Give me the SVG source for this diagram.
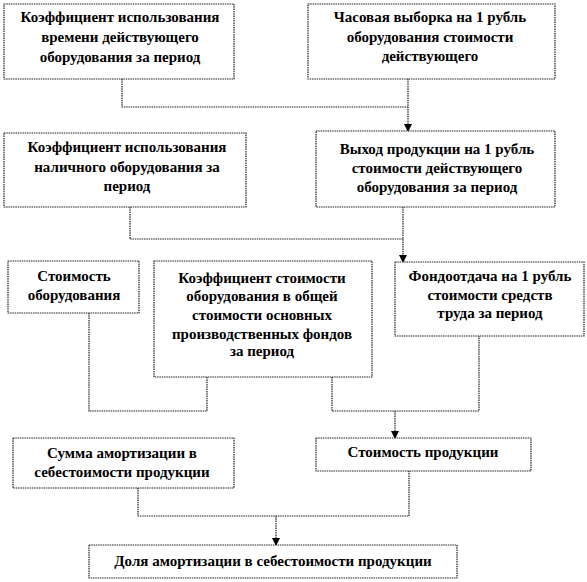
<svg xmlns="http://www.w3.org/2000/svg" width="587" height="582" viewBox="0 0 587 582">
<defs>
<marker id="ah" markerWidth="8" markerHeight="8" refX="7" refY="4" orient="auto" markerUnits="userSpaceOnUse">
<path d="M0,0 L8,4 L0,8 Z" fill="#000"/>
</marker>
</defs>
<rect width="587" height="582" fill="#fff"/>
<g id="connectors" fill="none" stroke="#222" stroke-width="1.2" stroke-dasharray="1.5 0.8">
<polyline points="122,79 122,107 408,107"/>
<line x1="408" y1="79" x2="408" y2="131" marker-end="url(#ah)"/>
<polyline points="130,207 130,239 403,239"/>
<line x1="403" y1="207" x2="403" y2="262" marker-end="url(#ah)"/>
<polyline points="89,313 89,411 207,411 207,377"/>
<polyline points="332,377 332,411 479,411 479,336"/>
<line x1="395" y1="411" x2="395" y2="438" marker-end="url(#ah)"/>
<polyline points="138,488 138,516 409,516 409,471"/>
<line x1="276" y1="516" x2="276" y2="545" marker-end="url(#ah)"/>
</g>
<g id="boxes" fill="#fff" stroke="#222" stroke-width="1.2" stroke-dasharray="1.5 0.8">
<rect id="b1" x="4" y="4" width="230" height="75"/>
<rect id="b2" x="308" y="4" width="247" height="75"/>
<rect id="b3" x="4" y="133" width="242" height="74"/>
<rect id="b4" x="316" y="131" width="239" height="76"/>
<rect id="b5" x="8" y="261" width="131" height="52"/>
<rect id="b6" x="154" y="261" width="218" height="116"/>
<rect id="b7" x="395" y="262" width="189" height="74"/>
<rect id="b8" x="13" y="438" width="221" height="50"/>
<rect id="b9" x="316" y="438" width="215" height="33"/>
<rect id="b10" x="89" y="545" width="368" height="33"/>
</g>
<g id="labels" font-weight="bold">
<g id="n1">
<text font-family="Times New Roman" font-size="15" text-anchor="middle" x="120" y="22">Коэффициент использования</text>
<text font-family="Times New Roman" font-size="15" text-anchor="middle" x="120" y="42">времени действующего</text>
<text font-family="Times New Roman" font-size="15" text-anchor="middle" x="120" y="62">оборудования за период</text>
</g>
<g id="n2">
<text font-family="Times New Roman" font-size="15" text-anchor="middle" x="430" y="22">Часовая выборка на 1 рубль</text>
<text font-family="Times New Roman" font-size="15" text-anchor="middle" x="430" y="42">оборудования стоимости</text>
<text font-family="Times New Roman" font-size="15" text-anchor="middle" x="430" y="61">действующего</text>
</g>
<g id="n3">
<text font-family="Times New Roman" font-size="15" text-anchor="middle" x="127" y="152">Коэффициент использования</text>
<text font-family="Times New Roman" font-size="15" text-anchor="middle" x="127" y="172">наличного оборудования за</text>
<text font-family="Times New Roman" font-size="15" text-anchor="middle" x="127" y="191">период</text>
</g>
<g id="n4">
<text font-family="Times New Roman" font-size="15" text-anchor="middle" x="437" y="154">Выход продукции на 1 рубль</text>
<text font-family="Times New Roman" font-size="15" text-anchor="middle" x="437" y="173">стоимости действующего</text>
<text font-family="Times New Roman" font-size="15" text-anchor="middle" x="437" y="192">оборудования за период</text>
</g>
<g id="n5">
<text font-family="Times New Roman" font-size="15" text-anchor="middle" x="74" y="281">Стоимость</text>
<text font-family="Times New Roman" font-size="15" text-anchor="middle" x="74" y="300">оборудования</text>
</g>
<g id="n6">
<text font-family="Times New Roman" font-size="15" text-anchor="middle" x="262" y="283">Коэффициент стоимости</text>
<text font-family="Times New Roman" font-size="15" text-anchor="middle" x="262" y="301">оборудования в общей</text>
<text font-family="Times New Roman" font-size="15" text-anchor="middle" x="262" y="320">стоимости основных</text>
<text font-family="Times New Roman" font-size="15" text-anchor="middle" x="262" y="339">производственных фондов</text>
<text font-family="Times New Roman" font-size="15" text-anchor="middle" x="262" y="356">за период</text>
</g>
<g id="n7">
<text font-family="Times New Roman" font-size="15" text-anchor="middle" x="490" y="281">Фондоотдача на 1 рубль</text>
<text font-family="Times New Roman" font-size="15" text-anchor="middle" x="490" y="300">стоимости средств</text>
<text font-family="Times New Roman" font-size="15" text-anchor="middle" x="490" y="318">труда за период</text>
</g>
<g id="n8">
<text font-family="Times New Roman" font-size="15" text-anchor="middle" x="122" y="458">Сумма амортизации в</text>
<text font-family="Times New Roman" font-size="15" text-anchor="middle" x="122" y="477">себестоимости продукции</text>
</g>
<g id="n9">
<text font-family="Times New Roman" font-size="15" text-anchor="middle" x="423" y="457">Стоимость продукции</text>
</g>
<g id="n10">
<text font-family="Times New Roman" font-size="15" text-anchor="middle" x="273" y="566">Доля амортизации в себестоимости продукции</text>
</g>
</g>
</svg>
